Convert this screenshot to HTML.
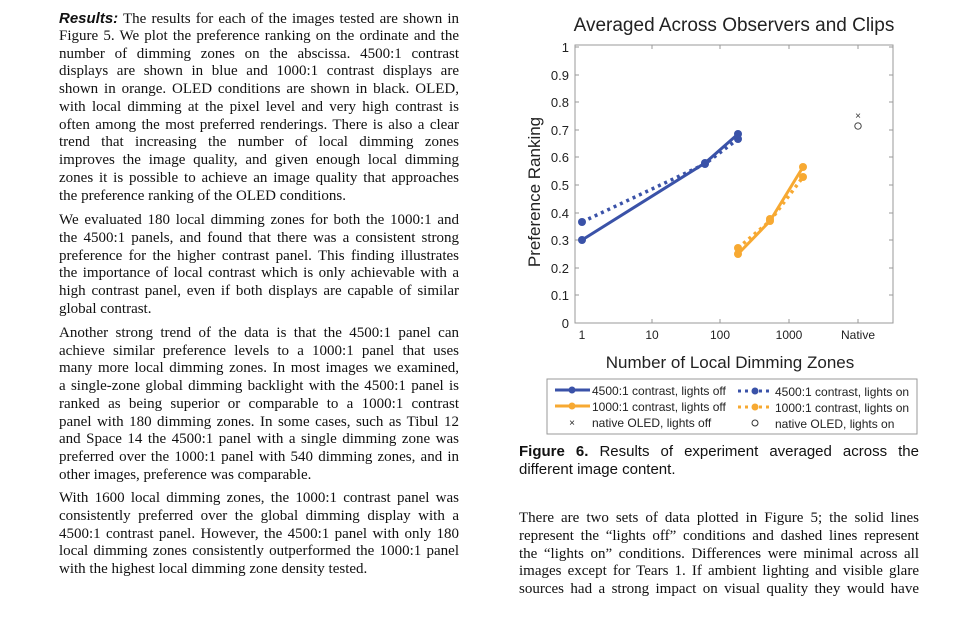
<!DOCTYPE html>
<html><head><meta charset="utf-8"><style>
body{margin:0;width:979px;height:625px;background:#fff;position:relative;overflow:hidden}
.l{position:absolute;font-family:"Liberation Serif",serif;font-size:15px;line-height:17px;white-space:nowrap;text-align:justify;text-align-last:justify;color:#111}
.e{text-align-last:left}
.s{font-family:"Liberation Sans",sans-serif}
</style></head><body>
<div class="l" style="left:59px;top:10px;width:400px"><b class="s"><i>Results:</i></b> The results for each of the images tested are shown in</div>
<div class="l" style="left:59px;top:28px;width:400px">Figure 5. We plot the preference ranking on the ordinate and the</div>
<div class="l" style="left:59px;top:46px;width:400px">number of dimming zones on the abscissa. 4500:1 contrast</div>
<div class="l" style="left:59px;top:63px;width:400px">displays are shown in blue and 1000:1 contrast displays are</div>
<div class="l" style="left:59px;top:81px;width:400px">shown in orange. OLED conditions are shown in black. OLED,</div>
<div class="l" style="left:59px;top:99px;width:400px">with local dimming at the pixel level and very high contrast is</div>
<div class="l" style="left:59px;top:117px;width:400px">often among the most preferred renderings. There is also a clear</div>
<div class="l" style="left:59px;top:134px;width:400px">trend that increasing the number of local dimming zones</div>
<div class="l" style="left:59px;top:152px;width:400px">improves the image quality, and given enough local dimming</div>
<div class="l" style="left:59px;top:170px;width:400px">zones it is possible to achieve an image quality that approaches</div>
<div class="l e" style="left:59px;top:188px;width:400px">the preference ranking of the OLED conditions.</div>

<div class="l" style="left:59px;top:212px;width:400px">We evaluated 180 local dimming zones for both the 1000:1 and</div>
<div class="l" style="left:59px;top:230px;width:400px">the 4500:1 panels, and found that there was a consistent strong</div>
<div class="l" style="left:59px;top:248px;width:400px">preference for the higher contrast panel. This finding illustrates</div>
<div class="l" style="left:59px;top:265px;width:400px">the importance of local contrast which is only achievable with a</div>
<div class="l" style="left:59px;top:283px;width:400px">high contrast panel, even if both displays are capable of similar</div>
<div class="l e" style="left:59px;top:301px;width:400px">global contrast.</div>

<div class="l" style="left:59px;top:325px;width:400px">Another strong trend of the data is that the 4500:1 panel can</div>
<div class="l" style="left:59px;top:343px;width:400px">achieve similar preference levels to a 1000:1 panel that uses</div>
<div class="l" style="left:59px;top:360px;width:400px">many more local dimming zones. In most images we examined,</div>
<div class="l" style="left:59px;top:378px;width:400px">a single-zone global dimming backlight with the 4500:1 panel is</div>
<div class="l" style="left:59px;top:396px;width:400px">ranked as being superior or comparable to a 1000:1 contrast</div>
<div class="l" style="left:59px;top:414px;width:400px">panel with 180 dimming zones. In some cases, such as Tibul 12</div>
<div class="l" style="left:59px;top:431px;width:400px">and Space 14 the 4500:1 panel with a single dimming zone was</div>
<div class="l" style="left:59px;top:449px;width:400px">preferred over the 1000:1 panel with 540 dimming zones, and in</div>
<div class="l e" style="left:59px;top:467px;width:400px">other images, preference was comparable.</div>

<div class="l" style="left:59px;top:490px;width:400px">With 1600 local dimming zones, the 1000:1 contrast panel was</div>
<div class="l" style="left:59px;top:508px;width:400px">consistently preferred over the global dimming display with a</div>
<div class="l" style="left:59px;top:526px;width:400px">4500:1 contrast panel. However, the 4500:1 panel with only 180</div>
<div class="l" style="left:59px;top:543px;width:400px">local dimming zones consistently outperformed the 1000:1 panel</div>
<div class="l e" style="left:59px;top:561px;width:400px">with the highest local dimming zone density tested.</div>

<div class="l s" style="left:519px;top:443px;width:400px;font-size:15px"><b>Figure 6.</b> Results of experiment averaged across the</div>
<div class="l s e" style="left:519px;top:461px;width:400px;font-size:15px">different image content.</div>

<div class="l" style="left:519px;top:510px;width:400px">There are two sets of data plotted in Figure 5; the solid lines</div>
<div class="l" style="left:519px;top:528px;width:400px">represent the “lights off” conditions and dashed lines represent</div>
<div class="l" style="left:519px;top:546px;width:400px">the “lights on” conditions. Differences were minimal across all</div>
<div class="l" style="left:519px;top:563px;width:400px">images except for Tears 1. If ambient lighting and visible glare</div>
<div class="l" style="left:519px;top:581px;width:400px">sources had a strong impact on visual quality they would have</div>

<svg style="position:absolute;left:0;top:0" width="979" height="625" font-family="Liberation Sans, sans-serif">
<text x="734" y="31" font-size="19" text-anchor="middle" fill="#222">Averaged Across Observers and Clips</text>
<rect x="575" y="45" width="318" height="278" fill="none" stroke="#999" stroke-width="1"/>
<g stroke="#999" stroke-width="1">
<line x1="575" y1="47" x2="579" y2="47"/><line x1="889" y1="47" x2="893" y2="47"/>
<line x1="575" y1="75" x2="579" y2="75"/><line x1="889" y1="75" x2="893" y2="75"/>
<line x1="575" y1="102" x2="579" y2="102"/><line x1="889" y1="102" x2="893" y2="102"/>
<line x1="575" y1="130" x2="579" y2="130"/><line x1="889" y1="130" x2="893" y2="130"/>
<line x1="575" y1="157" x2="579" y2="157"/><line x1="889" y1="157" x2="893" y2="157"/>
<line x1="575" y1="185" x2="579" y2="185"/><line x1="889" y1="185" x2="893" y2="185"/>
<line x1="575" y1="213" x2="579" y2="213"/><line x1="889" y1="213" x2="893" y2="213"/>
<line x1="575" y1="240" x2="579" y2="240"/><line x1="889" y1="240" x2="893" y2="240"/>
<line x1="575" y1="268" x2="579" y2="268"/><line x1="889" y1="268" x2="893" y2="268"/>
<line x1="575" y1="295" x2="579" y2="295"/><line x1="889" y1="295" x2="893" y2="295"/>
<line x1="652" y1="323" x2="652" y2="319"/><line x1="720" y1="323" x2="720" y2="319"/><line x1="789" y1="323" x2="789" y2="319"/><line x1="858" y1="323" x2="858" y2="319"/>
<line x1="652" y1="45" x2="652" y2="49"/><line x1="720" y1="45" x2="720" y2="49"/><line x1="789" y1="45" x2="789" y2="49"/><line x1="858" y1="45" x2="858" y2="49"/>
</g>
<g font-size="13" fill="#222" text-anchor="end">
<text x="569" y="52">1</text><text x="569" y="80">0.9</text><text x="569" y="107">0.8</text><text x="569" y="135">0.7</text><text x="569" y="162">0.6</text><text x="569" y="190">0.5</text><text x="569" y="218">0.4</text><text x="569" y="245">0.3</text><text x="569" y="273">0.2</text><text x="569" y="300">0.1</text><text x="569" y="328">0</text>
</g>
<g font-size="12" fill="#222" text-anchor="middle">
<text x="582" y="339">1</text><text x="652" y="339">10</text><text x="720" y="339">100</text><text x="789" y="339">1000</text><text x="858" y="339">Native</text>
</g>
<text x="730" y="368" font-size="17" text-anchor="middle" fill="#222">Number of Local Dimming Zones</text>
<text transform="translate(540,192) rotate(-90)" font-size="17" text-anchor="middle" fill="#222">Preference Ranking</text>
<polyline points="582,240 705,163 738,134" fill="none" stroke="#3a52a8" stroke-width="3"/>
<polyline points="582,222 705,164 738,139" fill="none" stroke="#3a52a8" stroke-width="3.5" stroke-dasharray="3,4"/>
<g fill="#3a52a8"><circle cx="582" cy="240" r="4"/><circle cx="705" cy="163" r="4"/><circle cx="738" cy="134" r="4"/><circle cx="582" cy="222" r="4"/><circle cx="705" cy="164" r="4"/><circle cx="738" cy="139" r="4"/></g>
<polyline points="738,254 770,221 803,167" fill="none" stroke="#f7a932" stroke-width="3"/>
<polyline points="738,248 770,221 803,177" fill="none" stroke="#f7a932" stroke-width="3.5" stroke-dasharray="3,4"/>
<g fill="#f7a932"><circle cx="738" cy="254" r="4"/><circle cx="770" cy="221" r="4"/><circle cx="803" cy="167" r="4"/><circle cx="738" cy="248" r="4"/><circle cx="770" cy="219" r="4"/><circle cx="803" cy="177" r="4"/></g>
<text x="858" y="119" font-size="10" text-anchor="middle" fill="#333">×</text>
<circle cx="858" cy="126" r="3.2" fill="none" stroke="#333" stroke-width="0.9"/>
<rect x="547" y="379" width="370" height="55" fill="#fff" stroke="#999"/>
<g font-size="12" fill="#222">
<line x1="555" y1="390" x2="590" y2="390" stroke="#3a52a8" stroke-width="3"/><circle cx="572" cy="390" r="3.5" fill="#3a52a8"/>
<text x="592" y="395">4500:1 contrast, lights off</text>
<line x1="555" y1="406" x2="590" y2="406" stroke="#f7a932" stroke-width="3"/><circle cx="572" cy="406" r="3.5" fill="#f7a932"/>
<text x="592" y="411">1000:1 contrast, lights off</text>
<text x="572" y="426" font-size="10" text-anchor="middle">×</text>
<text x="592" y="427">native OLED, lights off</text>
<line x1="738" y1="391" x2="772" y2="391" stroke="#3a52a8" stroke-width="3" stroke-dasharray="3,4"/><circle cx="755" cy="391" r="3.5" fill="#3a52a8"/>
<text x="775" y="396">4500:1 contrast, lights on</text>
<line x1="738" y1="407" x2="772" y2="407" stroke="#f7a932" stroke-width="3" stroke-dasharray="3,4"/><circle cx="755" cy="407" r="3.5" fill="#f7a932"/>
<text x="775" y="412">1000:1 contrast, lights on</text>
<circle cx="755" cy="423" r="3" fill="none" stroke="#333"/>
<text x="775" y="428">native OLED, lights on</text>
</g>
</svg>
</body></html>
